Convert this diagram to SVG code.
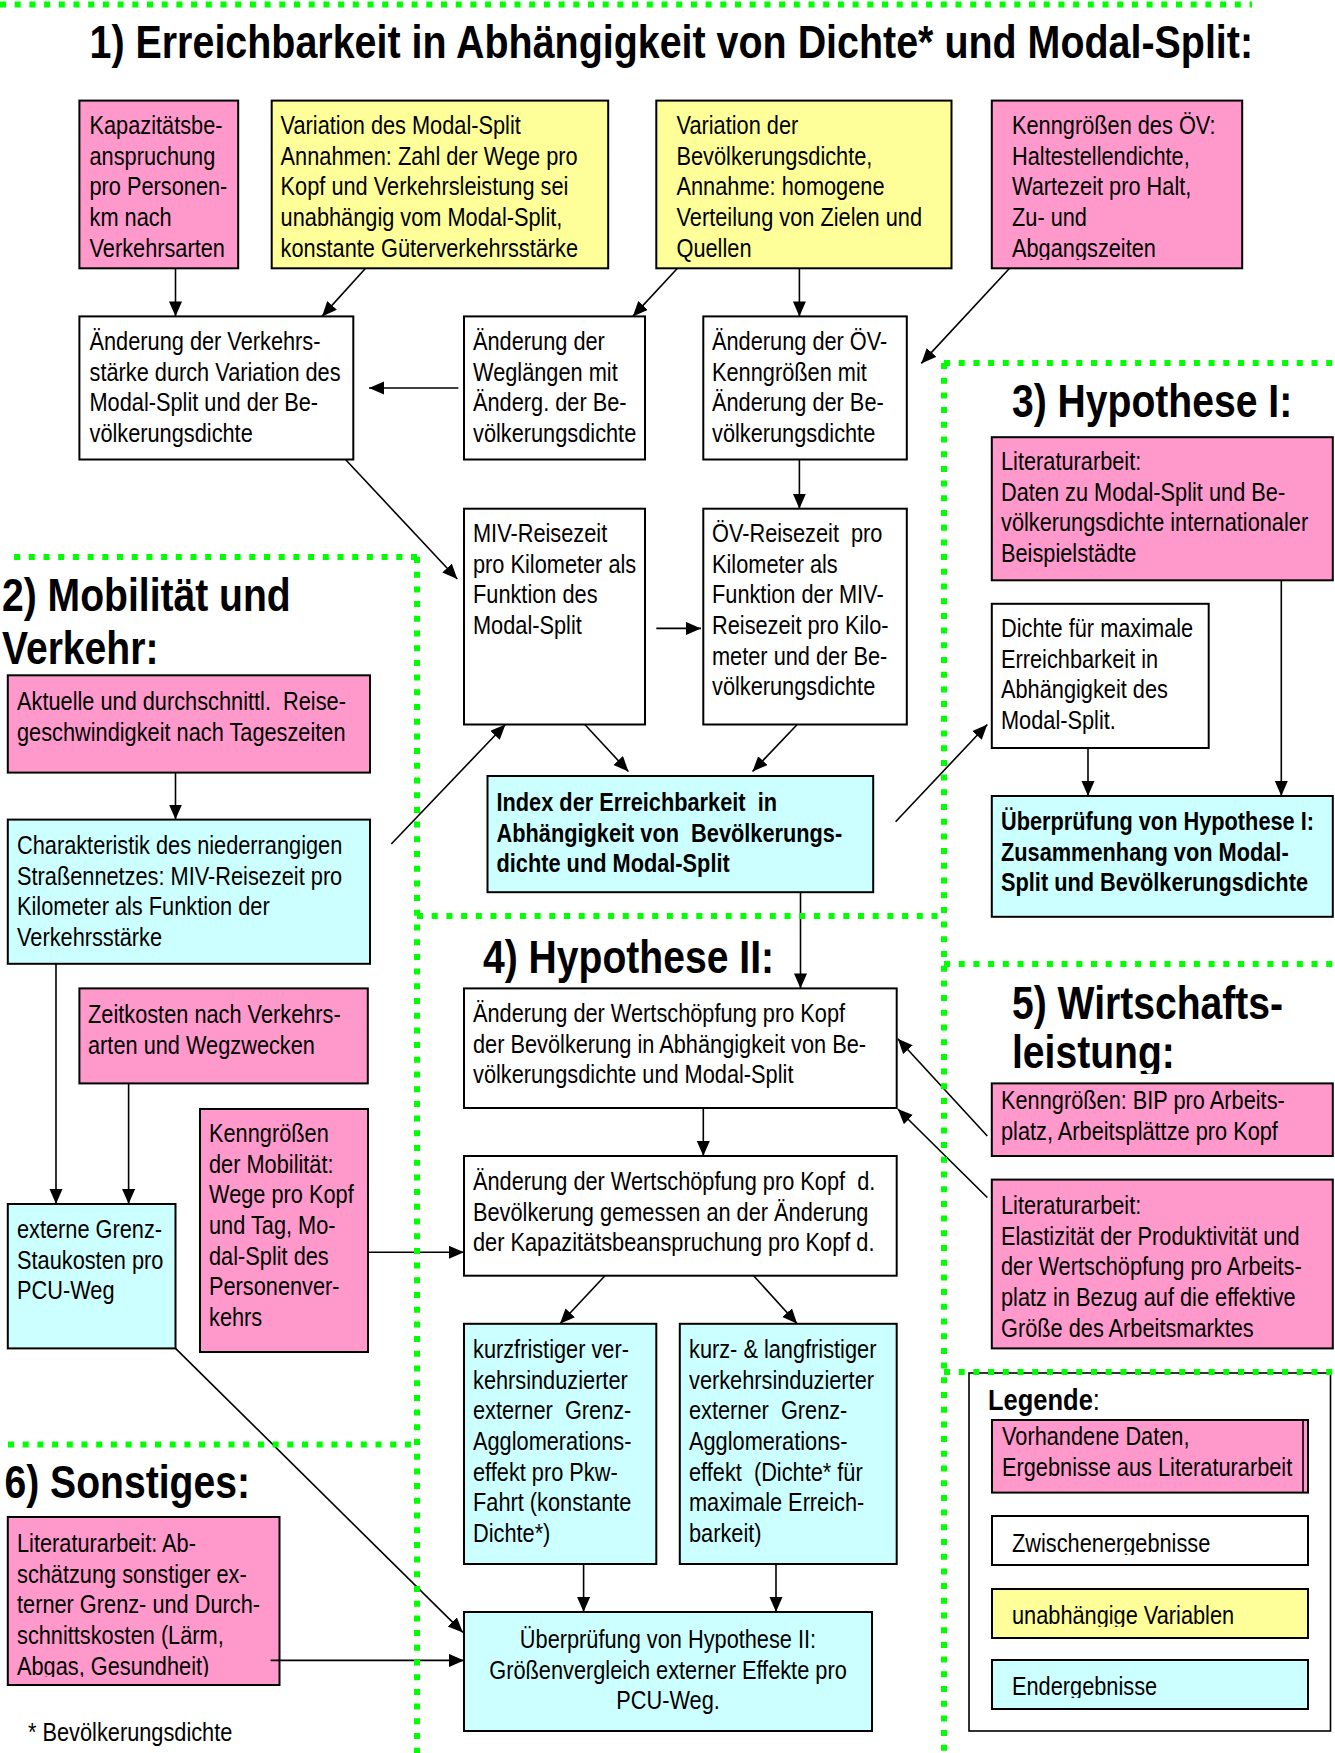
<svg xmlns="http://www.w3.org/2000/svg" width="1335" height="1753" viewBox="0 0 1335 1753">
<style>
.box{stroke:#000;stroke-width:2}
.pink{fill:#FF99CC}.yel{fill:#FFFF99}.cyan{fill:#CCFFFF}.wht{fill:#FFFFFF}
.t{font-family:"Liberation Sans",Arial,sans-serif;font-size:25.6px;fill:#000}
.b{font-weight:bold}
.h{font-family:"Liberation Sans",Arial,sans-serif;font-size:46px;font-weight:bold;fill:#000}
.g{stroke:#00FF00;stroke-width:6;stroke-dasharray:6 8.7;fill:none}
.c{stroke:#000;stroke-width:1.6;fill:none;marker-end:url(#ah)}
</style>
<defs>
<marker id="ah" markerUnits="userSpaceOnUse" markerWidth="16" markerHeight="14" refX="15" refY="6.5" orient="auto"><path d="M0,0 L15,6.5 L0,13 z" fill="#000"/></marker>
<clipPath id="clipOEV"><rect x="990" y="100" width="260" height="160"/></clipPath>
<clipPath id="clipLit6"><rect x="6" y="1515" width="280" height="162"/></clipPath>
<clipPath id="clipLeist"><rect x="1000" y="1030" width="300" height="44"/></clipPath>
<clipPath id="clipZw"><rect x="990" y="1516" width="320" height="39"/></clipPath>
<clipPath id="clipUn"><rect x="990" y="1589" width="320" height="38"/></clipPath>
<clipPath id="clipEnd"><rect x="990" y="1660" width="320" height="38"/></clipPath>
</defs>
<rect width="1335" height="1753" fill="#FFFFFF"/>

<g id="sections">
<text class="h" transform="translate(89.5 58) scale(.857 1)">1) Erreichbarkeit in Abhängigkeit von Dichte* und Modal-Split:</text>
<text class="h" transform="translate(2 611) scale(.85 1)">2) Mobilität und</text>
<text class="h" transform="translate(2 664) scale(.85 1)">Verkehr:</text>
<text class="h" transform="translate(1012 417) scale(.85 1)">3) Hypothese I:</text>
<text class="h" transform="translate(483 973) scale(.85 1)">4) Hypothese II:</text>
<text class="h" transform="translate(1012 1019) scale(.85 1)">5) Wirtschafts-</text>
<g clip-path="url(#clipLeist)"><text class="h" transform="translate(1012 1068) scale(.85 1)">leistung:</text></g>
<text class="h" transform="translate(4.5 1498) scale(.85 1)">6) Sonstiges:</text>
<text class="t" transform="translate(28 1741) scale(.85 1)">* Bevölkerungsdichte</text>
</g>

<g id="legend">
<rect x="969" y="1373" width="361.5" height="358" fill="#FFFFFF" stroke="#000" stroke-width="1.6"/>
<text class="t" transform="translate(988 1410) scale(.85 1)" style="font-size:30px"><tspan class="b">Legende</tspan>:</text>
<rect class="box pink" x="992" y="1420" width="316" height="72.6"/>
<line x1="1303" y1="1420" x2="1303" y2="1492.6" stroke="#000" stroke-width="1.6"/>
<text class="t" transform="translate(1002 1445) scale(.85 1)"><tspan x="0" y="0">Vorhandene Daten,</tspan><tspan x="0" y="30.7">Ergebnisse aus Literaturarbeit</tspan></text>
<rect class="box wht" x="992" y="1516" width="316" height="49"/>
<g clip-path="url(#clipZw)"><text class="t" transform="translate(1012 1552) scale(.85 1)">Zwischenergebnisse</text></g>
<rect class="box yel" x="992" y="1589" width="316" height="49"/>
<g clip-path="url(#clipUn)"><text class="t" transform="translate(1012 1624) scale(.85 1)">unabhängige Variablen</text></g>
<rect class="box cyan" x="992" y="1660" width="316" height="49"/>
<g clip-path="url(#clipEnd)"><text class="t" transform="translate(1012 1695) scale(.85 1)">Endergebnisse</text></g>
</g>

<g id="n-kapazitaet">
<rect class="box pink" x="79.4" y="100.6" width="158.8" height="167.7"/>
<text class="t" transform="translate(89.5 134) scale(.85 1)"><tspan x="0" y="0">Kapazitätsbe-</tspan><tspan x="0" y="30.7">anspruchung</tspan><tspan x="0" y="61.4">pro Personen-</tspan><tspan x="0" y="92.1">km nach</tspan><tspan x="0" y="122.8">Verkehrsarten</tspan></text>
</g>
<g id="n-variation-modalsplit">
<rect class="box yel" x="271.7" y="100.6" width="336.5" height="167.7"/>
<text class="t" transform="translate(280.6 134) scale(.85 1)"><tspan x="0" y="0">Variation des Modal-Split</tspan><tspan x="0" y="30.7">Annahmen: Zahl der Wege pro</tspan><tspan x="0" y="61.4">Kopf und Verkehrsleistung sei</tspan><tspan x="0" y="92.1">unabhängig vom Modal-Split,</tspan><tspan x="0" y="122.8">konstante Güterverkehrsstärke</tspan></text>
</g>
<g id="n-variation-dichte">
<rect class="box yel" x="656.3" y="100.6" width="295.2" height="167.7"/>
<text class="t" transform="translate(676.5 134) scale(.85 1)"><tspan x="0" y="0">Variation der</tspan><tspan x="0" y="30.7">Bevölkerungsdichte,</tspan><tspan x="0" y="61.4">Annahme: homogene</tspan><tspan x="0" y="92.1">Verteilung von Zielen und</tspan><tspan x="0" y="122.8">Quellen</tspan></text>
</g>
<g id="n-kenngroessen-oev">
<rect class="box pink" x="991.8" y="100.6" width="250.4" height="167.7"/>
<g clip-path="url(#clipOEV)"><text class="t" transform="translate(1012 134) scale(.85 1)"><tspan x="0" y="0">Kenngrößen des ÖV:</tspan><tspan x="0" y="30.7">Haltestellendichte,</tspan><tspan x="0" y="61.4">Wartezeit pro Halt,</tspan><tspan x="0" y="92.1">Zu- und</tspan><tspan x="0" y="122.8">Abgangszeiten</tspan></text></g>
</g>
<g id="n-aenderung-verkehrsstaerke">
<rect class="box wht" x="79.4" y="316.4" width="273.9" height="143.1"/>
<text class="t" transform="translate(89.5 350) scale(.85 1)"><tspan x="0" y="0">Änderung der Verkehrs-</tspan><tspan x="0" y="30.7">stärke durch Variation des</tspan><tspan x="0" y="61.4">Modal-Split und der Be-</tspan><tspan x="0" y="92.1">völkerungsdichte</tspan></text>
</g>
<g id="n-aenderung-weglaengen">
<rect class="box wht" x="464" y="316.4" width="181" height="143.1"/>
<text class="t" transform="translate(473 350) scale(.85 1)"><tspan x="0" y="0">Änderung der</tspan><tspan x="0" y="30.7">Weglängen mit</tspan><tspan x="0" y="61.4">Änderg. der Be-</tspan><tspan x="0" y="92.1">völkerungsdichte</tspan></text>
</g>
<g id="n-aenderung-oev">
<rect class="box wht" x="703.3" y="316.4" width="203.5" height="143.1"/>
<text class="t" transform="translate(712 350) scale(.85 1)"><tspan x="0" y="0">Änderung der ÖV-</tspan><tspan x="0" y="30.7">Kenngrößen mit</tspan><tspan x="0" y="61.4">Änderung der Be-</tspan><tspan x="0" y="92.1">völkerungsdichte</tspan></text>
</g>
<g id="n-miv-reisezeit">
<rect class="box wht" x="464" y="508.7" width="181" height="215.8"/>
<text class="t" transform="translate(473 542) scale(.85 1)"><tspan x="0" y="0">MIV-Reisezeit</tspan><tspan x="0" y="30.7">pro Kilometer als</tspan><tspan x="0" y="61.4">Funktion des</tspan><tspan x="0" y="92.1">Modal-Split</tspan></text>
</g>
<g id="n-oev-reisezeit">
<rect class="box wht" x="703.3" y="508.7" width="203.5" height="215.8"/>
<text class="t" transform="translate(712 542) scale(.85 1)"><tspan x="0" y="0">ÖV-Reisezeit&#160; pro</tspan><tspan x="0" y="30.7">Kilometer als</tspan><tspan x="0" y="61.4">Funktion der MIV-</tspan><tspan x="0" y="92.1">Reisezeit pro Kilo-</tspan><tspan x="0" y="122.8">meter und der Be-</tspan><tspan x="0" y="153.5">völkerungsdichte</tspan></text>
</g>
<g id="n-index">
<rect class="box cyan" x="487.5" y="776" width="385.7" height="116.2"/>
<text class="t b" transform="translate(496.5 811) scale(.85 1)"><tspan x="0" y="0">Index der Erreichbarkeit&#160; in</tspan><tspan x="0" y="30.7">Abhängigkeit von&#160; Bevölkerungs-</tspan><tspan x="0" y="61.4">dichte und Modal-Split</tspan></text>
</g>
<g id="n-literatur-3">
<rect class="box pink" x="991.8" y="437.2" width="341" height="143.1"/>
<text class="t" transform="translate(1001 470) scale(.85 1)"><tspan x="0" y="0">Literaturarbeit:</tspan><tspan x="0" y="30.7">Daten zu Modal-Split und Be-</tspan><tspan x="0" y="61.4">völkerungsdichte internationaler</tspan><tspan x="0" y="92.1">Beispielstädte</tspan></text>
</g>
<g id="n-dichte-max">
<rect class="box wht" x="991.8" y="603.8" width="216.9" height="144.2"/>
<text class="t" transform="translate(1001 637) scale(.85 1)"><tspan x="0" y="0">Dichte für maximale</tspan><tspan x="0" y="30.7">Erreichbarkeit in</tspan><tspan x="0" y="61.4">Abhängigkeit des</tspan><tspan x="0" y="92.1">Modal-Split.</tspan></text>
</g>
<g id="n-hypothese-1">
<rect class="box cyan" x="991.8" y="796" width="341" height="120.8"/>
<text class="t b" transform="translate(1001 830) scale(.85 1)"><tspan x="0" y="0">Überprüfung von Hypothese I:</tspan><tspan x="0" y="30.7">Zusammenhang von Modal-</tspan><tspan x="0" y="61.4">Split und Bevölkerungsdichte</tspan></text>
</g>
<g id="n-aktuelle">
<rect class="box pink" x="7.8" y="675.3" width="362.2" height="97.3"/>
<text class="t" transform="translate(17 710) scale(.85 1)"><tspan x="0" y="0">Aktuelle und durchschnittl.&#160; Reise-</tspan><tspan x="0" y="30.7">geschwindigkeit nach Tageszeiten</tspan></text>
</g>
<g id="n-charakteristik">
<rect class="box cyan" x="7.8" y="819.6" width="362.2" height="144.2"/>
<text class="t" transform="translate(17 854) scale(.85 1)"><tspan x="0" y="0">Charakteristik des niederrangigen</tspan><tspan x="0" y="30.7">Straßennetzes: MIV-Reisezeit pro</tspan><tspan x="0" y="61.4">Kilometer als Funktion der</tspan><tspan x="0" y="92.1">Verkehrsstärke</tspan></text>
</g>
<g id="n-zeitkosten">
<rect class="box pink" x="79.4" y="988.4" width="288.4" height="95"/>
<text class="t" transform="translate(88 1023) scale(.85 1)"><tspan x="0" y="0">Zeitkosten nach Verkehrs-</tspan><tspan x="0" y="30.7">arten und Wegzwecken</tspan></text>
</g>
<g id="n-kenngroessen-mobilitaet">
<rect class="box pink" x="200" y="1109" width="168" height="243"/>
<text class="t" transform="translate(209 1142) scale(.85 1)"><tspan x="0" y="0">Kenngrößen</tspan><tspan x="0" y="30.7">der Mobilität:</tspan><tspan x="0" y="61.4">Wege pro Kopf</tspan><tspan x="0" y="92.1">und Tag, Mo-</tspan><tspan x="0" y="122.8">dal-Split des</tspan><tspan x="0" y="153.5">Personenver-</tspan><tspan x="0" y="184.2">kehrs</tspan></text>
</g>
<g id="n-externe-stau">
<rect class="box cyan" x="7.8" y="1204" width="167.7" height="144.4"/>
<text class="t" transform="translate(17 1238) scale(.85 1)"><tspan x="0" y="0">externe Grenz-</tspan><tspan x="0" y="30.7">Staukosten pro</tspan><tspan x="0" y="61.4">PCU-Weg</tspan></text>
</g>
<g id="n-wertschoepfung-1">
<rect class="box wht" x="464" y="988.4" width="432.7" height="119.6"/>
<text class="t" transform="translate(473 1022) scale(.85 1)"><tspan x="0" y="0">Änderung der Wertschöpfung pro Kopf</tspan><tspan x="0" y="30.7">der Bevölkerung in Abhängigkeit von Be-</tspan><tspan x="0" y="61.4">völkerungsdichte und Modal-Split</tspan></text>
</g>
<g id="n-wertschoepfung-2">
<rect class="box wht" x="464" y="1156" width="432.7" height="119.7"/>
<text class="t" transform="translate(473 1190) scale(.85 1)"><tspan x="0" y="0">Änderung der Wertschöpfung pro Kopf&#160; d.</tspan><tspan x="0" y="30.7">Bevölkerung gemessen an der Änderung</tspan><tspan x="0" y="61.4">der Kapazitätsbeanspruchung pro Kopf d.</tspan></text>
</g>
<g id="n-kurzfristig">
<rect class="box cyan" x="464" y="1323.8" width="192.3" height="240.2"/>
<text class="t" transform="translate(473 1358) scale(.85 1)"><tspan x="0" y="0">kurzfristiger ver-</tspan><tspan x="0" y="30.7">kehrsinduzierter</tspan><tspan x="0" y="61.4">externer&#160; Grenz-</tspan><tspan x="0" y="92.1">Agglomerations-</tspan><tspan x="0" y="122.8">effekt pro Pkw-</tspan><tspan x="0" y="153.5">Fahrt (konstante</tspan><tspan x="0" y="184.2">Dichte*)</tspan></text>
</g>
<g id="n-langfristig">
<rect class="box cyan" x="679.8" y="1323.8" width="216.9" height="240.2"/>
<text class="t" transform="translate(689 1358) scale(.85 1)"><tspan x="0" y="0">kurz- &amp; langfristiger</tspan><tspan x="0" y="30.7">verkehrsinduzierter</tspan><tspan x="0" y="61.4">externer&#160; Grenz-</tspan><tspan x="0" y="92.1">Agglomerations-</tspan><tspan x="0" y="122.8">effekt&#160; (Dichte* für</tspan><tspan x="0" y="153.5">maximale Erreich-</tspan><tspan x="0" y="184.2">barkeit)</tspan></text>
</g>
<g id="n-hypothese-2">
<rect class="box cyan" x="464" y="1612" width="408" height="119"/>
<text class="t" transform="translate(668 1648) scale(.85 1)" text-anchor="middle"><tspan x="0" y="0">Überprüfung von Hypothese II:</tspan><tspan x="0" y="30.7">Größenvergleich externer Effekte pro</tspan><tspan x="0" y="61.4">PCU-Weg.</tspan></text>
</g>
<g id="n-kenngroessen-bip">
<rect class="box pink" x="991.8" y="1083.4" width="341" height="72.6"/>
<text class="t" transform="translate(1001 1109) scale(.85 1)"><tspan x="0" y="0">Kenngrößen: BIP pro Arbeits-</tspan><tspan x="0" y="30.7">platz, Arbeitsplättze pro Kopf</tspan></text>
</g>
<g id="n-literatur-5">
<rect class="box pink" x="991.8" y="1179.6" width="341" height="168.8"/>
<text class="t" transform="translate(1001 1214) scale(.85 1)"><tspan x="0" y="0">Literaturarbeit:</tspan><tspan x="0" y="30.7">Elastizität der Produktivität und</tspan><tspan x="0" y="61.4">der Wertschöpfung pro Arbeits-</tspan><tspan x="0" y="92.1">platz in Bezug auf die effektive</tspan><tspan x="0" y="122.8">Größe des Arbeitsmarktes</tspan></text>
</g>
<g id="n-literatur-6">
<rect class="box pink" x="7.8" y="1517" width="271.7" height="168"/>
<g clip-path="url(#clipLit6)"><text class="t" transform="translate(17 1552) scale(.85 1)"><tspan x="0" y="0">Literaturarbeit: Ab-</tspan><tspan x="0" y="30.7">schätzung sonstiger ex-</tspan><tspan x="0" y="61.4">terner Grenz- und Durch-</tspan><tspan x="0" y="92.1">schnittskosten (Lärm,</tspan><tspan x="0" y="122.8">Abgas, Gesundheit)</tspan></text></g>
</g>

<g id="connectors">
<path class="c" d="M175.5 268.3 V316.4"/>
<path class="c" d="M365.6 268.3 L322 316.4"/>
<path class="c" d="M677.5 268.3 L632.8 316.4"/>
<path class="c" d="M799.4 268.3 V316.4"/>
<path class="c" d="M1009.6 268.3 L921.3 363.4"/>
<path class="c" d="M458.4 388 H369"/>
<path class="c" d="M345.5 459.5 L457.3 579"/>
<path class="c" d="M799.4 459.5 V508.7"/>
<path class="c" d="M656.3 628.4 H701"/>
<path class="c" d="M391.3 844 L505.4 724.5"/>
<path class="c" d="M584.8 724.5 L628.4 771.5"/>
<path class="c" d="M797.2 724.5 L752.5 771.5"/>
<path class="c" d="M895.6 821.8 L987.3 724.5"/>
<path class="c" d="M1088 748 V796"/>
<path class="c" d="M1281.3 580.3 V796"/>
<path class="c" d="M800.5 892.2 V988.4"/>
<path class="c" d="M175.5 772.6 V819.6"/>
<path class="c" d="M56 963.8 V1204"/>
<path class="c" d="M128.6 1083.4 V1204"/>
<path class="c" d="M368 1252.3 H464"/>
<path class="c" d="M703.3 1108 V1156"/>
<path class="c" d="M987.3 1136 L897.8 1038.7"/>
<path class="c" d="M987.3 1197.5 L897.8 1109"/>
<path class="c" d="M605 1275.7 L560 1323.8"/>
<path class="c" d="M753.6 1275.7 L797.2 1323.8"/>
<path class="c" d="M583.6 1564 V1612"/>
<path class="c" d="M776 1564 V1612"/>
<path class="c" d="M175.5 1348.4 L462.9 1632.4"/>
<path class="c" d="M270.6 1660.4 H464"/>
</g>

<g id="dividers">
<path class="g" d="M0 4.5 H1252"/>
<path class="g" d="M944 363 H1335 M944 363 V1753"/>
<path class="g" d="M417 557 H8 M417 557 V1753"/>
<path class="g" d="M417 916 H944"/>
<path class="g" d="M944 964 H1335"/>
<path class="g" d="M8 1444.5 H417"/>
<path class="g" d="M944 1372 H1335"/>
</g>
</svg>
